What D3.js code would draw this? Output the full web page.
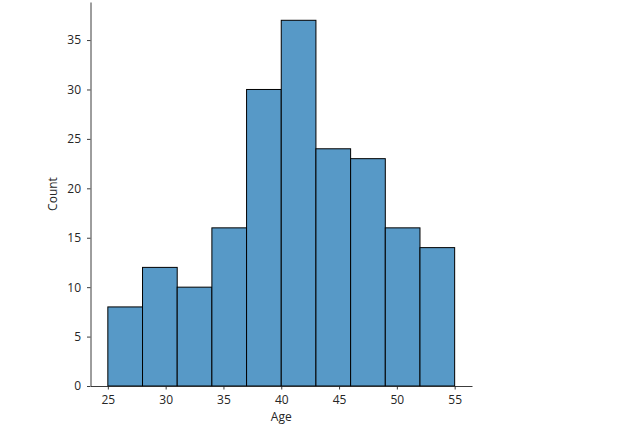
<!DOCTYPE html>
<html>
<head>
<meta charset="utf-8">
<script src="https://cdn.jsdelivr.net/npm/d3@7"></script>
<style>
  body { margin: 0; background: #fff; }
  text { font-family: "Open Sans", sans-serif; fill: #262626; }
</style>
</head>
<body>
<div id="chart"></div>
<script>
// bin edges (Age) and counts per bin
var binEdges = [25, 28, 31, 34, 37, 40, 43, 46, 49, 52, 55];
var counts = [8, 12, 10, 16, 30, 37, 24, 23, 16, 14];
var xTicks = [25, 30, 35, 40, 45, 50, 55];
var yTicks = [0, 5, 10, 15, 20, 25, 30, 35];

const width = 618;
const height = 428;
const plotLeft = 90.5, plotRight = 472, plotTop = 2, plotBottom = 386;
const fontSize = 12;

const svg = d3.select('#chart')
    .append('svg')
    .attr('width', width)
    .attr('height', height);

// matplotlib style 5% margins on x, top margin on y
var xMin = binEdges[0], xMax = binEdges[binEdges.length - 1];
var pad = (xMax - xMin) * 0.05;
var x = d3.scaleLinear()
    .domain([xMin - pad, xMax + pad])
    .range([plotLeft, plotRight]);

var y = d3.scaleLinear()
    .domain([0, d3.max(counts) * 1.05])
    .range([plotBottom, plotTop]);

svg.selectAll('rect.bar')
    .data(counts)
    .enter()
    .append('rect')
    .attr('class', 'bar')
    .attr('x', function(d, i) { return x(binEdges[i]); })
    .attr('width', function(d, i) { return x(binEdges[i + 1]) - x(binEdges[i]); })
    .attr('y', function(d) { return y(d); })
    .attr('height', function(d) { return y(0) - y(d); })
    .attr('fill', '#5799c7')
    .attr('stroke', '#000')
    .attr('stroke-width', 1);

var xAxis = svg.append('g')
    .attr('transform', 'translate(0,' + plotBottom + ')')
    .call(d3.axisBottom(x).tickValues(xTicks).tickSize(3.5).tickPadding(6).tickSizeOuter(0));

var yAxis = svg.append('g')
    .attr('transform', 'translate(' + plotLeft + ',0)')
    .call(d3.axisLeft(y).tickValues(yTicks).tickSize(3.5).tickPadding(6).tickSizeOuter(0));

[xAxis, yAxis].forEach(function(g) {
    g.select('.domain').attr('stroke', '#262626').attr('stroke-width', 0.9);
    g.selectAll('.tick line').attr('stroke', '#262626').attr('stroke-width', 0.9);
    g.selectAll('.tick text').attr('font-size', fontSize).attr('font-family', '"Open Sans", sans-serif').attr('fill', '#262626');
});

svg.append('text')
    .attr('x', (plotLeft + plotRight) / 2)
    .attr('y', 421)
    .attr('text-anchor', 'middle')
    .attr('font-size', fontSize)
    .text('Age');

svg.append('text')
    .attr('transform', 'translate(56.5,' + (plotTop + plotBottom) / 2 + ') rotate(-90)')
    .attr('text-anchor', 'middle')
    .attr('font-size', fontSize)
    .text('Count');
</script>
</body>
</html>
